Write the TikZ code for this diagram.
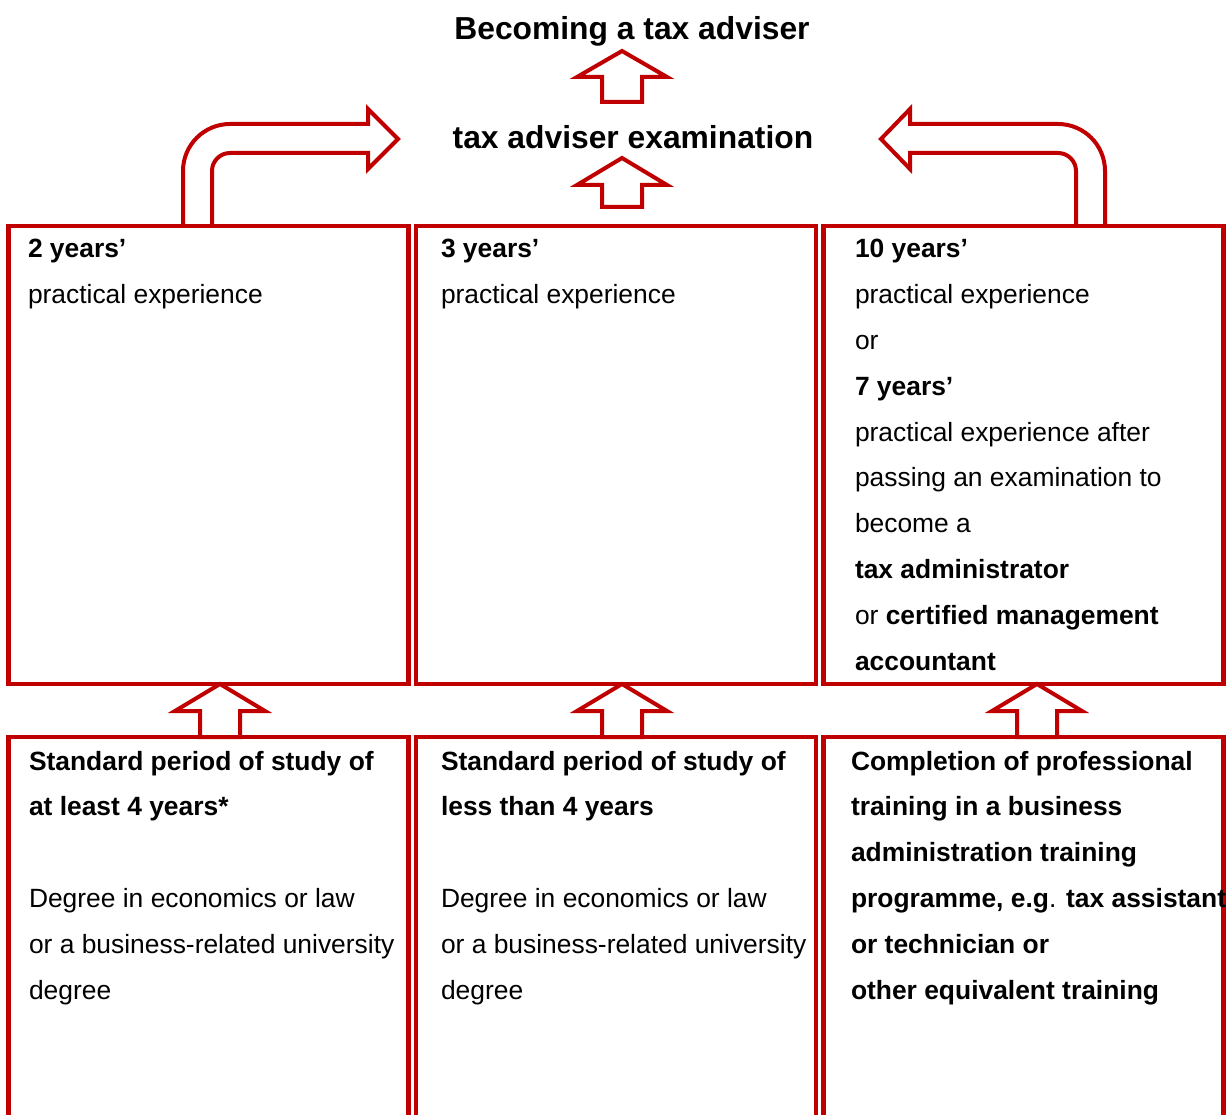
\documentclass[tikz,border=0pt]{standalone}
\usepackage{fontspec}
\setmainfont{Liberation Sans}
\usetikzlibrary{calc}
\definecolor{dred}{RGB}{192,0,0}
\newcommand{\bodyfont}{\fontsize{26.4}{45.8}\selectfont}
\newcommand{\boxtext}[1]{\parbox[t]{420pt}{\bodyfont #1}}
\begin{document}
\begin{tikzpicture}[x=1pt,y=-1pt,
  box/.style={draw=dred,line width=4.5pt,inner sep=0pt,outer sep=0pt,anchor=north west,minimum width=400pt},
  topbox/.style={box,minimum height=458pt},
  botbox/.style={box,minimum height=430pt},
  txt/.style={inner sep=0pt,outer sep=0pt,anchor=base west},
  ttl/.style={inner sep=0pt,outer sep=0pt,anchor=base,font=\fontsize{31.8}{36}\selectfont\bfseries},
  blk/.style={draw=dred,line width=4pt,line join=miter,miter limit=10}]
\useasboundingbox (0,0) rectangle (1227,1115);
\clip (0,0) rectangle (1227,1115);
% boxes
\node[topbox] (t1) at (8.5,226) {};
\node[topbox] (t2) at (416,226) {};
\node[topbox] (t3) at (823.5,226) {};
\node[botbox] (b1) at (8.5,737) {};
\node[botbox] (b2) at (416,737) {};
\node[botbox] (b3) at (823.5,737) {};
% titles
\node[ttl] (title) at (632,40) {Becoming a tax adviser};
\node[ttl] (exam) at (633,149) {tax adviser examination};
% texts
\node[txt] (t1txt) at (28,258) {\boxtext{\textbf{2 years’}\\practical experience}};
\node[txt] (t2txt) at (441,258) {\boxtext{\textbf{3 years’}\\practical experience}};
\node[txt] (t3txt) at (855,258) {\boxtext{\textbf{10 years’}\\practical experience\\or\\\textbf{7 years’}\\practical experience after\\passing an examination to\\become a\\\textbf{tax administrator}\\or \textbf{certified management}\\\textbf{accountant}}};
\node[txt] (b1txt) at (29,770) {\boxtext{\textbf{Standard period of study of}\\\textbf{at least 4 years*}\\\mbox{}\\Degree in economics or law\\or a business-related university\\degree}};
\node[txt] (b2txt) at (441,770) {\boxtext{\textbf{Standard period of study of}\\\textbf{less than 4 years}\\\mbox{}\\Degree in economics or law\\or a business-related university\\degree}};
\node[txt] (b3txt) at (851,770) {\boxtext{\textbf{Completion of professional}\\\textbf{training in a business}\\\textbf{administration training}\\\textbf{programme, e.g}. \textbf{tax assistant}\\\textbf{or technician or}\\\textbf{other equivalent training}}};
% block arrows between titles
\coordinate (upA) at (622,51);
\coordinate (upB) at (622,158);
\draw[blk] (upA) -- ++(45,26) -- ++(-25,0) -- ++(0,25) -- ++(-40,0) -- ++(0,-25) -- ++(-25,0) -- cycle;
\draw[blk] (upB) -- ++(45,27) -- ++(-25,0) -- ++(0,22) -- ++(-40,0) -- ++(0,-22) -- ++(-25,0) -- cycle;
% block arrows from bottom boxes to top boxes
\draw[blk] ($(t1.south)+(11.5,0)$) -- ++(45,27) -- ++(-25,0) -- ++(0,26) -- ++(-40,0) -- ++(0,-26) -- ++(-25,0) -- cycle;
\draw[blk] ($(t2.south)+(6,0)$) -- ++(45,27) -- ++(-25,0) -- ++(0,26) -- ++(-40,0) -- ++(0,-26) -- ++(-25,0) -- cycle;
\draw[blk] ($(t3.south)+(13.5,0)$) -- ++(45,27) -- ++(-25,0) -- ++(0,26) -- ++(-40,0) -- ++(0,-26) -- ++(-25,0) -- cycle;
% bent arrows to the examination
\draw[blk] (183,226) -- (183,171) arc[start angle=180,end angle=270,radius=47] -- (368,124) -- (368,109) -- (398,139) -- (368,169) -- (368,153) -- (230,153) arc[start angle=270,end angle=180,radius=18] -- (212,226);
\draw[blk] (1105,226) -- (1105,171) arc[start angle=360,end angle=270,radius=47] -- (910,124) -- (910,109) -- (881,139) -- (910,169) -- (910,153) -- (1058,153) arc[start angle=270,end angle=360,radius=18] -- (1076,226);
\end{tikzpicture}
\end{document}
